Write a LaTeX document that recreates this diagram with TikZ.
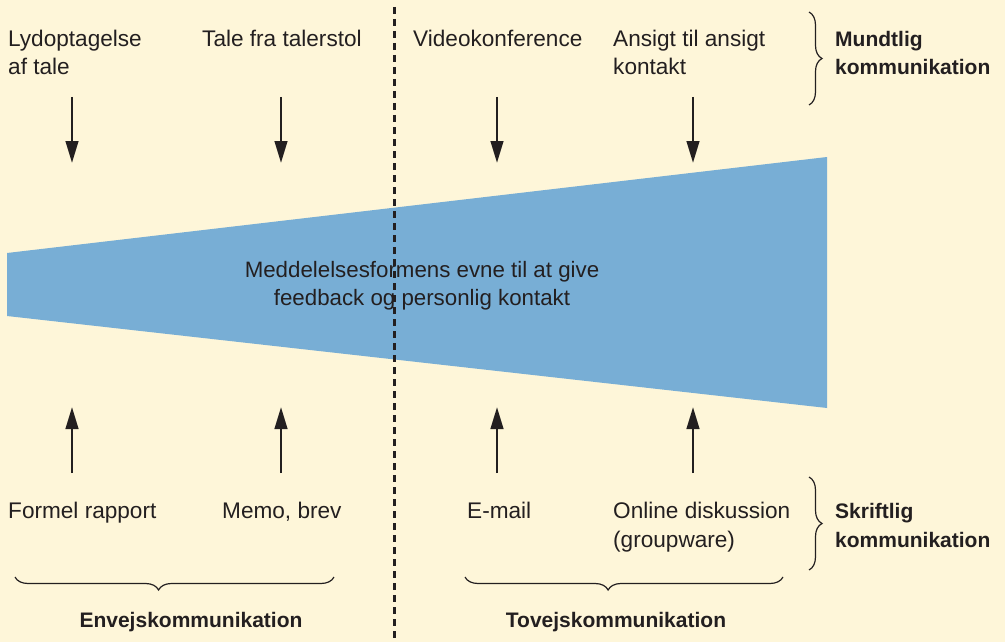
\documentclass[tikz,border=0pt]{standalone}
\usepackage{fontspec}
\setmainfont{Liberation Sans}
\usetikzlibrary{arrows.meta,decorations.pathreplacing}
\definecolor{paper}{HTML}{FEF6D9}
\definecolor{wedgeblue}{HTML}{78AED5}
\definecolor{ink}{HTML}{231F20}
\begin{document}
\begin{tikzpicture}[x=1pt,y=-1pt,
  lbl/.style={anchor=base west, inner sep=0pt, text=ink, font=\fontsize{22.6}{28}\selectfont},
  ctr/.style={anchor=base, inner sep=0pt, text=ink, font=\fontsize{22.3}{28}\selectfont},
  head/.style={anchor=base west, inner sep=0pt, text=ink, font=\fontsize{21}{28}\selectfont\bfseries},
  headc/.style={anchor=base, inner sep=0pt, text=ink, font=\fontsize{21}{28}\selectfont\bfseries},
  flow/.style={draw=ink, line width=2.8pt, -{Triangle[length=22pt,width=12.5pt]}},
  divider/.style={draw=ink, line width=3pt, dash pattern=on 7pt off 5pt},
  bracket/.style={draw=ink, line width=1.2pt, decorate,
    decoration={brace, amplitude=13pt, aspect=#1}},
  bracket/.default=0.5]

% page
\fill[paper] (0,0) rectangle (1005,642);
\useasboundingbox (0,0) rectangle (1005,642);

% widening band
\fill[wedgeblue] (7,253) -- (827,157) -- (827,408) -- (7,316) -- cycle;
\node[ctr] (band1) at (422,277) {Meddelelsesformens evne til at give};
\node[ctr] (band2) at (422,305) {feedback og personlig kontakt};

% divider between one-way and two-way
\coordinate (divtop) at (394,7);
\coordinate (divbot) at (394,642);
\draw[divider] (divtop) -- (divbot);

% oral media
\node[lbl] (lyd) at (8,47) {Lydoptagelse};
\node[lbl] (lydb) at (8,75) {af tale};
\node[lbl] (tale) at (202,47) {Tale fra talerstol};
\node[lbl] (video) at (413,47) {Videokonference};
\node[lbl] (ansigt) at (613,47) {Ansigt til ansigt};
\node[lbl] (ansigtb) at (613,75) {kontakt};

% written media
\node[lbl] (rapport) at (8,518) {Formel rapport};
\node[lbl] (memo) at (222,518) {Memo, brev};
\node[lbl] (email) at (467,518) {E-mail};
\node[lbl] (online) at (613,518) {Online diskussion};
\node[lbl] (onlineb) at (613,547) {(groupware)};

% arrow ends
\foreach \n/\x in {a/72,b/281,c/497,d/693}{
  \coordinate (top\n) at (\x,97);
  \coordinate (tip\n) at (\x,163);
  \coordinate (bot\n) at (\x,473);
  \coordinate (up\n) at (\x,407);
}
\foreach \n in {a,b,c,d}{
  \draw[flow] (top\n) -- (tip\n);
  \draw[flow] (bot\n) -- (up\n);
}

% group labels
\node[head] (mundtlig) at (835,47) {Mundtlig};
\node[head] (mundtligb) at (835,75) {kommunikation};
\node[head] (skriftlig) at (835,518) {Skriftlig};
\node[head] (skriftligb) at (835,547) {kommunikation};
\node[headc] (envej) at (191,627) {Envejskommunikation};
\node[headc] (tovej) at (616,627) {Tovejskommunikation};

% braces
\coordinate (mtop) at (809,12);  \coordinate (mbot) at (809,105);
\coordinate (stop) at (809,477); \coordinate (sbot) at (809,570);
\coordinate (eR) at (334,577);   \coordinate (eL) at (15,577);
\coordinate (tR) at (783,577);   \coordinate (tL) at (465,577);
\draw[bracket] (mtop) -- (mbot);
\draw[bracket] (stop) -- (sbot);
\draw[bracket=0.55] (eR) -- (eL);
\draw[bracket=0.55] (tR) -- (tL);
\end{tikzpicture}
\end{document}
